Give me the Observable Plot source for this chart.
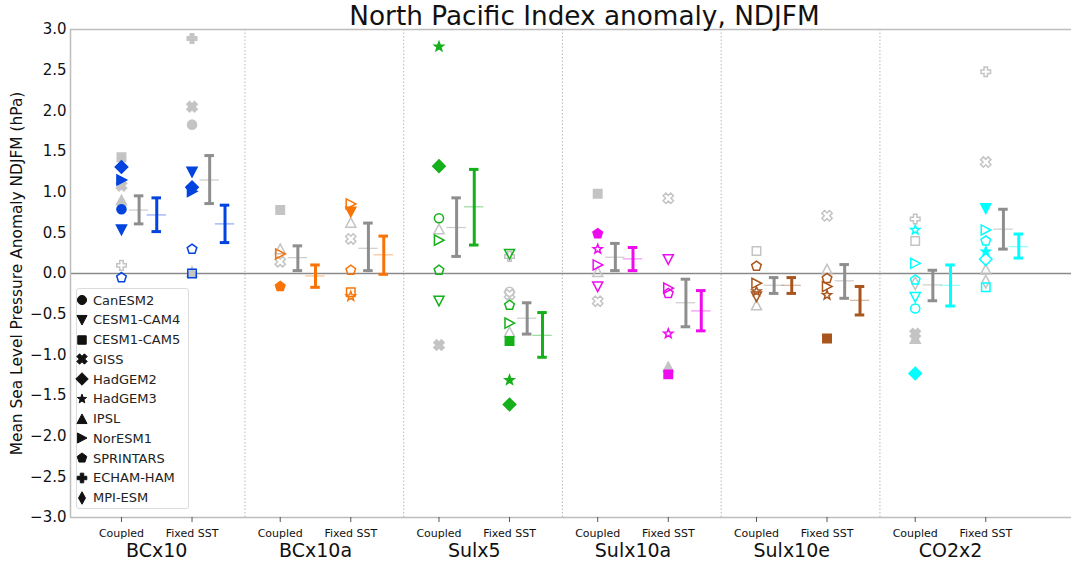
<!DOCTYPE html>
<html><head><meta charset="utf-8">
<script src="https://cdn.jsdelivr.net/npm/d3@7"></script>
<script src="https://cdn.jsdelivr.net/npm/@observablehq/plot@0.6"></script>
<style>
body{margin:0;background:#fff;font-family:"DejaVu Sans",sans-serif;}
#wrap{position:relative;width:1071px;height:569px;overflow:hidden;}
#title{position:absolute;left:99px;width:971px;top:1px;text-align:center;font-size:26.3px;color:#111;}
#legend{position:absolute;left:76px;top:288px;width:113px;height:221px;border:1px solid #dcdcdc;border-radius:3px;background:rgba(255,255,255,0.85);box-sizing:border-box;}
.row{position:absolute;left:0;height:20px;display:flex;align-items:center;font-size:13px;color:#222;white-space:nowrap;}
.row svg{margin-left:-3px;margin-right:3px;}
</style></head><body>
<div id="wrap"><div id="chart"></div><div id="title">North Pacific Index anomaly, NDJFM</div><div id="legend"></div></div>
<script>
// ---------------- data ----------------
const experiments = ["BCx10", "BCx10a", "Sulx5", "Sulx10a", "Sulx10e", "CO2x2"];
const expColors = ["#0343df", "#f97306", "#15b01a", "#ee0cee", "#a9561e", "#00ffff"];
const models = ["CanESM2", "CESM1-CAM4", "CESM1-CAM5", "GISS", "HadGEM2", "HadGEM3", "IPSL", "NorESM1", "SPRINTARS", "ECHAM-HAM", "MPI-ESM"];
const tickNames = ["Coupled", "Fixed SST"];
const yTicks = [3, 2.5, 2, 1.5, 1, 0.5, 0, -0.5, -1, -1.5, -2, -2.5, -3];

// [model, value, style]  style: f = filled colour, o = open colour, gf = grey filled, go = grey open
const BCx10_coupled = [["CESM1-CAM5",1.43,"gf"],["HadGEM2",1.31,"f"],["NorESM1",1.15,"f"],["GISS",1.08,"gf"],["IPSL",0.90,"gf"],["CanESM2",0.79,"f"],["CESM1-CAM4",0.54,"f"],["ECHAM-HAM",0.10,"go"],["SPRINTARS",-0.05,"o"]];
const BCx10_fixed = [["ECHAM-HAM",2.89,"gf"],["GISS",2.05,"gf"],["CanESM2",1.83,"gf"],["CESM1-CAM4",1.25,"f"],["HadGEM2",1.06,"f"],["NorESM1",1.01,"f"],["SPRINTARS",0.30,"o"],["IPSL",0.02,"gf"],["CESM1-CAM5",0.0,"o"]];
const BCx10a_coupled = [["CESM1-CAM5",0.78,"gf"],["IPSL",0.30,"go"],["NorESM1",0.24,"o"],["GISS",0.145,"go"],["SPRINTARS",-0.16,"f"]];
const BCx10a_fixed = [["NorESM1",0.855,"o"],["CESM1-CAM4",0.76,"f"],["IPSL",0.625,"go"],["GISS",0.425,"go"],["SPRINTARS",0.04,"o"],["CESM1-CAM5",-0.23,"o"],["HadGEM3",-0.28,"o"]];
const Sulx5_coupled = [["HadGEM3",2.79,"f"],["HadGEM2",1.32,"f"],["CanESM2",0.68,"o"],["IPSL",0.545,"go"],["NorESM1",0.41,"o"],["SPRINTARS",0.04,"o"],["CESM1-CAM4",-0.335,"o"],["GISS",-0.88,"gf"]];
const Sulx5_fixed = [["ECHAM-HAM",0.21,"go"],["CESM1-CAM4",0.24,"o"],["CanESM2",-0.225,"go"],["GISS",-0.26,"go"],["SPRINTARS",-0.39,"o"],["NorESM1",-0.61,"o"],["IPSL",-0.72,"go"],["CESM1-CAM5",-0.83,"f"],["HadGEM3",-1.31,"f"],["HadGEM2",-1.61,"f"]];
const Sulx10a_coupled = [["CESM1-CAM5",0.98,"gf"],["SPRINTARS",0.49,"f"],["HadGEM3",0.30,"o"],["NorESM1",0.105,"o"],["IPSL",0.02,"go"],["CESM1-CAM4",-0.16,"o"],["GISS",-0.34,"go"]];
const Sulx10a_fixed = [["GISS",0.925,"go"],["CESM1-CAM4",0.175,"o"],["NorESM1",-0.18,"o"],["SPRINTARS",-0.245,"o"],["HadGEM3",-0.74,"o"],["IPSL",-1.15,"gf"],["CESM1-CAM5",-1.24,"f"]];
const Sulx10e_coupled = [["CESM1-CAM5",0.277,"go"],["SPRINTARS",0.09,"o"],["NorESM1",-0.12,"o"],["IPSL",-0.39,"go"],["HadGEM3",-0.22,"o"],["CESM1-CAM4",-0.285,"o"]];
const Sulx10e_fixed = [["GISS",0.71,"go"],["IPSL",0.05,"go"],["SPRINTARS",-0.06,"o"],["NorESM1",-0.16,"o"],["HadGEM3",-0.265,"o"],["CESM1-CAM5",-0.80,"f"]];
const CO2x2_coupled = [["ECHAM-HAM",0.67,"go"],["HadGEM3",0.535,"o"],["CESM1-CAM5",0.40,"go"],["NorESM1",0.125,"o"],["MPI-ESM",-0.12,"go"],["SPRINTARS",-0.08,"o"],["CESM1-CAM4",-0.29,"o"],["CanESM2",-0.43,"o"],["GISS",-0.74,"gf"],["IPSL",-0.80,"gf"],["HadGEM2",-1.23,"f"]];
const CO2x2_fixed = [["ECHAM-HAM",2.48,"go"],["GISS",1.37,"go"],["CESM1-CAM4",0.80,"f"],["NorESM1",0.535,"o"],["SPRINTARS",0.40,"o"],["HadGEM3",0.27,"f"],["HadGEM2",0.175,"o"],["IPSL",0.05,"go"],["MPI-ESM",-0.10,"go"],["CESM1-CAM5",-0.17,"o"]];

// ensemble mean bars [low, high, mean]
const coupledGreyBar = [[0.61,0.955,0.78],[0.035,0.34,0.195],[0.21,0.93,0.565],[0.035,0.37,0.20],[-0.245,-0.05,-0.145],[-0.335,0.04,-0.14]];
const coupledColourBar = [[0.515,0.93,0.72],[-0.17,0.105,-0.03],[0.35,1.28,0.82],[0.035,0.32,0.18],[-0.245,-0.05,-0.145],[-0.40,0.105,-0.145]];
const fixedGreyBar = [[0.86,1.45,1.15],[0.035,0.62,0.31],[-0.745,-0.36,-0.55],[-0.655,-0.07,-0.36],[-0.305,0.11,-0.09],[0.30,0.79,0.545]];
const fixedColourBar = [[0.38,0.84,0.61],[-0.01,0.46,0.23],[-1.03,-0.48,-0.76],[-0.705,-0.21,-0.46],[-0.51,-0.16,-0.33],[0.19,0.485,0.33]];

// ---------------- symbols ----------------
const GREY_PT = "#c4c4c4", GREY_BAR = "#8e8e8e";
function poly(pts){return {draw(ctx,size){const r=Math.sqrt(size/Math.PI);pts.forEach(([x,y],i)=>i?ctx.lineTo(x*r,y*r):ctx.moveTo(x*r,y*r));ctx.closePath();}};}
function radial(n, outer, inner){const pts=[];const m=inner?2*n:n;for(let i=0;i<m;i++){const a=-Math.PI/2+i*2*Math.PI/m;const rr=inner&&i%2?inner:outer;pts.push([rr*Math.cos(a),rr*Math.sin(a)]);}return pts;}
const W=0.36, L=1.0;
const plusPts=[[-W,-L],[W,-L],[W,-W],[L,-W],[L,W],[W,W],[W,L],[-W,L],[-W,W],[-L,W],[-L,-W],[-W,-W]];
const xPts=plusPts.map(([x,y])=>{const c=Math.SQRT1_2*1.12;return [(x-y)*c,(x+y)*c];});
const SYM = {
  "CanESM2": {draw(ctx,size){const r=Math.sqrt(size/Math.PI)*0.95;ctx.moveTo(r,0);ctx.arc(0,0,r,0,2*Math.PI);}},
  "CESM1-CAM4": poly([[0,1.05],[-1.05,-0.95],[1.05,-0.95]]),
  "CESM1-CAM5": poly([[-.88,-.88],[.88,-.88],[.88,.88],[-.88,.88]]),
  "GISS": poly(xPts),
  "HadGEM2": poly([[0,-1.3],[1.3,0],[0,1.3],[-1.3,0]]),
  "HadGEM3": poly(radial(5,1.0,0.42)),
  "IPSL": poly([[0,-1.05],[-1.05,0.95],[1.05,0.95]]),
  "NorESM1": poly([[1.05,0],[-0.95,-1.05],[-0.95,1.05]]),
  "SPRINTARS": poly(radial(5,1.05)),
  "ECHAM-HAM": poly(plusPts),
  "MPI-ESM": poly([[0,-1.3],[0.72,0],[0,1.3],[-0.72,0]])
};

// ---------------- layout in data units ----------------
const GROUP = 9, FIXED = 4, SEP = 7;
const offsets = {coupledGrey:1, coupledColour:2, fixedGrey:5, fixedColour:5.87};

const ptsTables = [[BCx10_coupled,BCx10_fixed],[BCx10a_coupled,BCx10a_fixed],[Sulx5_coupled,Sulx5_fixed],[Sulx10a_coupled,Sulx10a_fixed],[Sulx10e_coupled,Sulx10e_fixed],[CO2x2_coupled,CO2x2_fixed]];
const points = [];
ptsTables.forEach(([cp, fx], g) => {
  [cp, fx].forEach((arr, k) => arr.forEach(([m, v, s]) => {
    const col = s[0] === "g" ? GREY_PT : expColors[g];
    const filled = s.endsWith("f");
    points.push({model: m, x: g*GROUP + k*FIXED, y: v, stroke: col, fill: filled ? col : "none", grey: s[0]==="g"});
  }));
});
const bars = [];
experiments.forEach((e, g) => {
  const add = (b, off, c) => bars.push({x: g*GROUP + off, lo: b[0], hi: b[1], mean: b[2], c});
  add(coupledGreyBar[g], offsets.coupledGrey, GREY_BAR);
  add(coupledColourBar[g], offsets.coupledColour, expColors[g]);
  add(fixedGreyBar[g], offsets.fixedGrey, GREY_BAR);
  add(fixedColourBar[g], offsets.fixedColour, expColors[g]);
});
const xTicks = experiments.flatMap((e, g) => [g*GROUP, g*GROUP + FIXED]);
const seps = experiments.slice(1).map((e, g) => g*GROUP + SEP);
const xDomain = [-2.89, 53.86];

const dotMarks = [];
[true, false].forEach(grey => models.forEach(m => {
  const data = points.filter(p => p.model === m && p.grey === grey);
  if (data.length) dotMarks.push(Plot.dot(data, {x: "x", y: "y", symbol: SYM[m], r: 4.8, stroke: "stroke", fill: "fill", strokeWidth: 1.5}));
}));

const chart = Plot.plot({
  width: 1071, height: 569,
  marginLeft: 70, marginRight: 0, marginTop: 29, marginBottom: 52,
  style: {fontFamily: "DejaVu Sans, sans-serif", background: "white", color: "#111"},
  x: {domain: xDomain, axis: null},
  y: {domain: [-3, 3], axis: null},
  color: {type: "identity"},
  marks: [
    Plot.ruleX(seps, {stroke: "#b8b8b8", strokeWidth: 1, strokeDasharray: "1.5,2"}),
    Plot.ruleY([0], {stroke: "#8a8a8a", strokeWidth: 1.3}),
    Plot.ruleY([3, -3], {stroke: "#bdbdbd", strokeWidth: 1.5}),
    Plot.ruleX([xDomain[0]], {stroke: "#bdbdbd", strokeWidth: 1.5}),
    Plot.axisY({ticks: yTicks, tickFormat: d => d.toFixed(1).replace("-", "\u2212"), tickSize: 0, tickPadding: 4, fontSize: 15, label: null}),
    Plot.axisX({ticks: xTicks, tickFormat: d => tickNames[(d % GROUP) === 0 ? 0 : 1], tickSize: 5, tickPadding: 7, fontSize: 11, label: null, stroke: "#555"}),
    Plot.text(experiments, {x: (d, i) => i*GROUP + FIXED/2, frameAnchor: "bottom", dy: 39, fontSize: 19, fill: "#111"}),
    Plot.text(["Mean Sea Level Pressure Anomaly NDJFM (hPa)"], {frameAnchor: "left", textAnchor: "middle", dx: -53, rotate: -90, fontSize: 15.4, fill: "#111"}),
    ...dotMarks,
    Plot.ruleX(bars, {x: "x", y1: "lo", y2: "hi", stroke: "c", strokeWidth: 3}),
    Plot.ruleY(bars, {y: "hi", x1: d => d.x - 0.27, x2: d => d.x + 0.27, stroke: "c", strokeWidth: 3}),
    Plot.ruleY(bars, {y: "lo", x1: d => d.x - 0.27, x2: d => d.x + 0.27, stroke: "c", strokeWidth: 3}),
    Plot.ruleY(bars, {y: "mean", x1: d => d.x - 0.55, x2: d => d.x + 0.55, stroke: "c", strokeOpacity: 0.45, strokeWidth: 1.2})
  ]
});
document.getElementById("chart").appendChild(chart);

// legend
const leg = document.getElementById("legend");
models.forEach((m, i) => {
  const row = document.createElement("div");
  row.className = "row";
  row.style.top = (1 + i*19.77) + "px";
  const path = d3.symbol(SYM[m], 4.8*4.8*Math.PI)();
  row.innerHTML = `<svg width="16" height="20" viewBox="-8 -10 16 20"><path d="${path}" fill="#111" stroke="#111" stroke-width="1"/></svg><span>${m}</span>`;
  leg.appendChild(row);
});
</script></body></html>
